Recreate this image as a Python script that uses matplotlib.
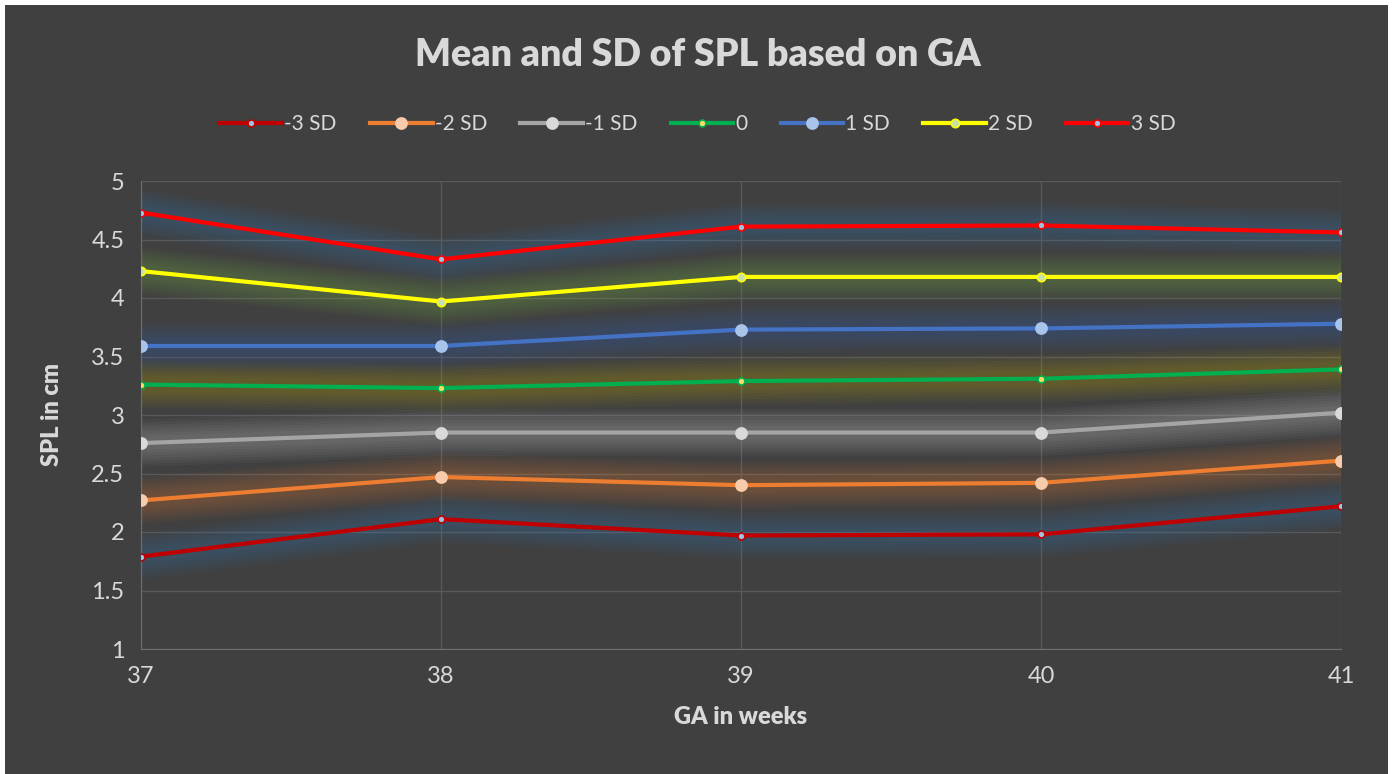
import numpy as np
import matplotlib.pyplot as plt

plt.rcParams['font.family'] = ['Lato', 'DejaVu Sans']

weeks = [37, 38, 39, 40, 41]
series_names = ['-3 SD', '-2 SD', '-1 SD', '0', '1 SD', '2 SD', '3 SD']
m3sd = [1.79, 2.11, 1.97, 1.98, 2.22]
m2sd = [2.27, 2.47, 2.40, 2.42, 2.61]
m1sd = [2.76, 2.85, 2.85, 2.85, 3.02]
mean0 = [3.26, 3.23, 3.29, 3.31, 3.39]
p1sd = [3.59, 3.59, 3.73, 3.74, 3.78]
p2sd = [4.23, 3.97, 4.18, 4.18, 4.18]
p3sd = [4.73, 4.33, 4.61, 4.62, 4.56]
values = [m3sd, m2sd, m1sd, mean0, p1sd, p2sd, p3sd]

# line colour, glow colour, marker face, marker edge, marker size
styles = [
    ('#C00000', '#3a7bbf', '#9dc3e6', '#C00000', 5),
    ('#ED7D31', '#ED7D31', '#F8CBAD', '#F8CBAD', 8),
    ('#A5A5A5', '#d9d9d9', '#D9D9D9', '#D9D9D9', 8),
    ('#00B050', '#c9b300', '#FFD966', '#00B050', 5),
    ('#4472C4', '#2f6fc4', '#A9C4EB', '#A9C4EB', 8),
    ('#FFFF00', '#7fbf3f', '#C5E0B4', '#FFFF00', 6),
    ('#FF0000', '#3a7bbf', '#9dc3e6', '#FF0000', 5),
]

bg = '#404040'
txt = '#D9D9D9'

fig = plt.figure(figsize=(13.95, 7.74), dpi=100, facecolor='white')
fig.patches.append(plt.Rectangle((5 / 1395, 0), 1383 / 1395, 769 / 774,
                                 transform=fig.transFigure, facecolor=bg,
                                 edgecolor='none', zorder=-10))
ax = fig.add_axes([141 / 1395, 1 - 649 / 774, 1200 / 1395, 468 / 774])
ax.set_facecolor(bg)

for vals, name, (lc, gc, mf, me, ms) in zip(values, series_names, styles):
    # soft glow behind each line
    for lw in [34, 30, 26, 22, 18, 14, 10]:
        ax.plot(weeks, vals, color=gc, lw=lw, alpha=0.045,
                solid_capstyle='round', zorder=2)
    ax.plot(weeks, vals, color=lc, lw=3, marker='o', markersize=ms,
            markerfacecolor=mf, markeredgecolor=me, markeredgewidth=1.2,
            label=name, zorder=3)

ax.set_xlim(37, 41)
ax.set_ylim(1, 5)
ax.set_xticks(weeks)
ax.set_yticks([1, 1.5, 2, 2.5, 3, 3.5, 4, 4.5, 5])
ax.set_yticklabels(['1', '1.5', '2', '2.5', '3', '3.5', '4', '4.5', '5'])
ax.grid(True, color='#595959', lw=1)
ax.set_axisbelow(True)
for s in ['top', 'right']:
    ax.spines[s].set_visible(False)
for s in ['left', 'bottom']:
    ax.spines[s].set_color('#6e6e6e')
ax.tick_params(colors=txt, labelsize=17, length=0, pad=12)

ax.set_xlabel('GA in weeks', color=txt, fontsize=17, fontweight='heavy', labelpad=14)
ax.set_ylabel('SPL in cm', color=txt, fontsize=17, fontweight='heavy', labelpad=20)

fig.text(0.5, 1 - 55 / 774, 'Mean and SD of SPL based on GA', ha='center',
         va='center', color=txt, fontsize=27, fontweight='heavy')

leg = fig.legend(loc='center', bbox_to_anchor=(0.5, 1 - 124 / 774), ncol=7,
                 frameon=False, fontsize=15, handlelength=3.0,
                 handletextpad=0.1, columnspacing=1.6, labelcolor=txt)

fig.savefig('out.png', dpi=100, facecolor=fig.get_facecolor())
